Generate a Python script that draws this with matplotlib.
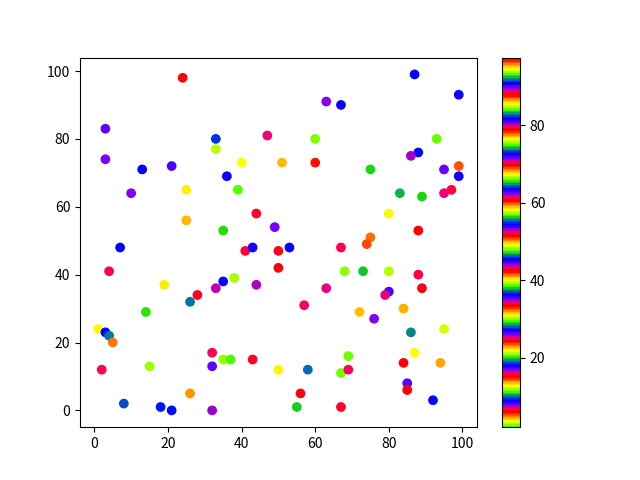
import numpy as np
import matplotlib
matplotlib.use("Agg")
import matplotlib.pyplot as plt

plt.rcParams['font.family'] = ['Noto Sans CJK SC', 'DejaVu Sans']

# point positions
x = [24, 3, 33, 33, 3, 13, 21, 10, 25, 25,
     7, 63, 67, 47, 60, 40, 51, 60, 36, 39,
     44, 49, 35, 87, 99, 93, 88, 86, 75, 95,
     99, 99, 83, 89, 95, 97, 80, 88, 75, 74,
     4, 19, 28, 33, 26, 14, 1, 3, 4, 5,
     32, 2, 15, 32, 26, 8, 18, 21, 32, 41,
     43, 50, 53, 67, 50, 35, 38, 44, 63, 57,
     35, 37, 43, 50, 58, 56, 55, 67, 69, 67,
     69, 68, 73, 80, 88, 89, 80, 79, 72, 84,
     76, 86, 95, 87, 84, 94, 85, 85, 92]
y = [98, 83, 80, 77, 74, 71, 72, 64, 65, 56,
     48, 91, 90, 81, 80, 73, 73, 73, 69, 65,
     58, 54, 53, 99, 93, 80, 76, 75, 71, 71,
     72, 69, 64, 63, 64, 65, 58, 53, 51, 49,
     41, 37, 34, 36, 32, 29, 24, 23, 22, 20,
     17, 12, 13, 13, 5, 2, 1, 0, 0, 47,
     48, 47, 48, 48, 42, 38, 39, 37, 36, 31,
     15, 15, 15, 12, 12, 5, 1, 1, 16, 11,
     12, 41, 41, 41, 40, 36, 35, 34, 29, 30,
     27, 23, 24, 17, 14, 14, 8, 6, 3]
# colour values (estimated from the prism colour of each point)
colors = [97.5, 62.6, 46.0, 21.2, 7.8, 72.7, 53.5, 34.9, 67.3, 31.5,
          27.0, 80.6, 8.8, 61.5, 48.2, 12.5, 77.2, 42.0, 54.5, 2.0,
          15.8, 71.4, 29.0, 91.0, 36.2, 84.3, 63.6, 25.8, 56.1, 89.7,
          50.7, 17.9, 74.0, 10.7, 34.1, 79.4, 39.9, 6.4, 86.8, 23.5,
          52.3, 85.6, 42.9, 61.9, 82.6, 47.2, 30.8, 45.3, 37.2, 68.7,
          70.4, 24.8, 57.5, 17.1, 59.1, 9.5, 81.9, 63.6, 43.9, 33.8,
          17.9, 88.4, 54.5, 6.7, 24.4, 36.2, 75.7, 7.4, 79.7, 43.1,
          39.2, 29.5, 61.1, 49.1, 64.3, 70.1, 83.6, 15.7, 56.9, 11.4,
          43.3, 66.4, 19.7, 93.8, 52.1, 24.5, 72.1, 79.9, 13.3, 50.0,
          35.0, 28.3, 76.1, 58.1, 6.3, 68.3, 81.0, 33.7, 45.3]

fig = plt.figure(figsize=(6.4, 4.8), dpi=100)
sc = plt.scatter(x, y, c=colors, cmap='prism_r')
plt.colorbar(sc)

plt.savefig("out.png")
